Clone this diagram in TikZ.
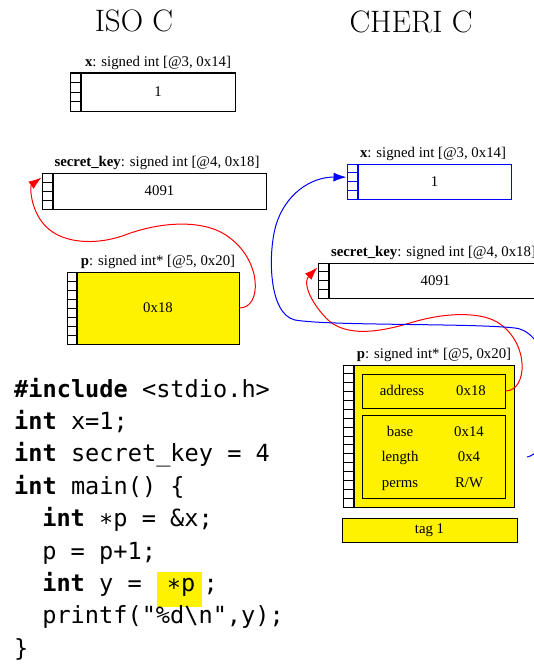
\documentclass[tikz,border=0pt]{standalone}
\usepackage{fontspec}
\newfontfamily\gvfont{Liberation Serif}
\newfontfamily\codefont{DejaVu Sans Mono}
\usetikzlibrary{arrows.meta,positioning}

\begin{document}
\begin{tikzpicture}[
x=1pt,y=-1pt,
membox/.style={rectangle,draw=black,line width=1pt,inner sep=0pt,font=\gvfont\fontsize{14.8}{17}\selectfont},
memcell/.style={rectangle,draw=black,line width=1pt,inner sep=0pt,fill=white,minimum width=10pt,anchor=north east},
memlabel/.style={inner sep=0pt,anchor=base,font=\gvfont\fontsize{14.8}{17}\selectfont},
coltitle/.style={inner sep=0pt,font=\fontsize{31}{36}\selectfont},
codeline/.style={inner sep=0pt,anchor=base west,font=\codefont\fontsize{23.6}{32.4}\selectfont},
ptr/.style={line width=1pt,-{Latex[length=13pt,width=9pt]}}
]
\useasboundingbox (0,0) rectangle (534,669);
\clip (0,0) rectangle (534,669);

\node[coltitle] (isotitle) at (134,20.5) {ISO C};
\node[coltitle] (cherititle) at (411,21.5) {CHERI C};

% ISO C memory
\node[memlabel] (isoxlab) at (158,66.5) {\textbf{x}: signed int [@3, 0x14]};
\node[membox,minimum width=154pt,minimum height=38pt] (isox) at (158,92) {1};
\foreach \k in {1,...,4}
    \node[memcell,minimum height=9.5pt] (isoxc\k) at ([yshift=-(\k-1)*9.5pt]isox.north west) {};

\node[memlabel] (isoklab) at (157,166.5) {\textbf{secret\_key}: signed int [@4, 0x18]};
\node[membox,minimum width=213pt,minimum height=36pt] (isok) at (159.5,191) {4091};
\foreach \k in {1,...,4}
    \node[memcell,minimum height=9pt] (isokc\k) at ([yshift=-(\k-1)*9pt]isok.north west) {};

\node[memlabel] (isoplab) at (158,265.5) {\textbf{p}: signed int* [@5, 0x20]};
\node[membox,fill=yellow,minimum width=162pt,minimum height=72pt] (isop) at (158,308) {0x18};
\foreach \k in {1,...,8}
    \node[memcell,minimum width=9pt,minimum height=9pt] (isopc\k) at ([yshift=-(\k-1)*9pt]isop.north west) {};

\draw[ptr,red] (isop.east) .. controls (262,308) and (262,262) .. (230,238)
    .. controls (208,220) and (165,220) .. (125,235)
    .. controls (95,246) and (58,244) .. (42,222)
    .. controls (30,206) and (30,186) .. (isokc1.west);

% CHERI C memory
\node[memlabel] (cherixlab) at (433,157.5) {\textbf{x}: signed int [@3, 0x14]};
\node[membox,draw=blue,minimum width=153pt,minimum height=35pt] (cherix) at (434.5,181.5) {1};
\foreach \k in {1,...,4}
    \node[memcell,draw=blue,minimum height=8.75pt] (cherixc\k) at ([yshift=-(\k-1)*8.75pt]cherix.north west) {};

\node[memlabel] (cheriklab) at (433.5,256.5) {\textbf{secret\_key}: signed int [@4, 0x18]};
\node[membox,minimum width=213pt,minimum height=35pt] (cherik) at (435.5,280.5) {4091};
\foreach \k in {1,...,4}
    \node[memcell,minimum height=8.75pt] (cherikc\k) at ([yshift=-(\k-1)*8.75pt]cherik.north west) {};

\node[memlabel] (cheriplab) at (434,358.5) {\textbf{p}: signed int* [@5, 0x20]};
\node[membox,fill=yellow,minimum width=160pt,minimum height=142pt] (cherip) at (434,436) {};
\foreach \k in {1,...,16}
    \node[memcell,minimum height=8.875pt] (cheripc\k) at ([yshift=-(\k-1)*8.875pt]cherip.north west) {};
\node[membox,minimum width=143pt,minimum height=34pt] (cheriaddr) at (433.5,391) {};
\node[membox,minimum width=143pt,minimum height=83pt] (chericaps) at (433.5,456.5) {};
\node[memlabel] (addrl) at (402,395.5) {address};
\node[memlabel] (addrv) at (471,395.5) {0x18};
\node[memlabel] (basel) at (400,436) {base};
\node[memlabel] (basev) at (469,436) {0x14};
\node[memlabel] (lenl) at (400,461) {length};
\node[memlabel] (lenv) at (469,461) {0x4};
\node[memlabel] (perml) at (400,487) {perms};
\node[memlabel] (permv) at (469,487) {R/W};
\node[membox,fill=yellow,minimum width=175pt,minimum height=24pt] (cheritag) at (429.5,530) {tag 1};

\draw[ptr,red] (cheriaddr.east) .. controls (528,391) and (530,342) .. (497,322)
    .. controls (478,311) and (442,313) .. (410,323)
    .. controls (380,332) and (345,338) .. (326,318)
    .. controls (309,300) and (303,282) .. (cherikc1.west);

\coordinate (cheriout) at (527,457);
\draw[ptr,blue] (cheriout) .. controls (562,450) and (560,333) .. (515,328)
    .. controls (470,323) and (330,326) .. (295,320)
    .. controls (268,314) and (268,252) .. (276,225)
    .. controls (285,195) and (310,177) .. (cherixc2.west);

% code
\fill[yellow] (157,572) rectangle (202,607);
\begin{scope}
\clip (0,360) rectangle (268,669);
\node[codeline] (code1) at (14,397) {\textbf{\#include} <stdio.h>};
\node[codeline] (code2) at (14,429.4) {\textbf{int} x=1;};
\node[codeline] (code3) at (14,461.8) {\textbf{int} secret\_key = 4091;};
\node[codeline] (code4) at (14,494.2) {\textbf{int} main() \{};
\node[codeline] (code5) at (42.1,526.6) {\textbf{int} ∗p = \&x;};
\node[codeline] (code6) at (42.1,559) {p = p+1;};
\node[codeline] (code7) at (42.1,591.4) {\textbf{int} y = \hspace{10.9pt}∗p\hspace{8.4pt};};
\end{scope}
\node[codeline] (code8) at (42.1,623.8) {printf("\%d\textbackslash n",y);};
\node[codeline] (code9) at (14,656.2) {\}};
\end{tikzpicture}
\end{document}
